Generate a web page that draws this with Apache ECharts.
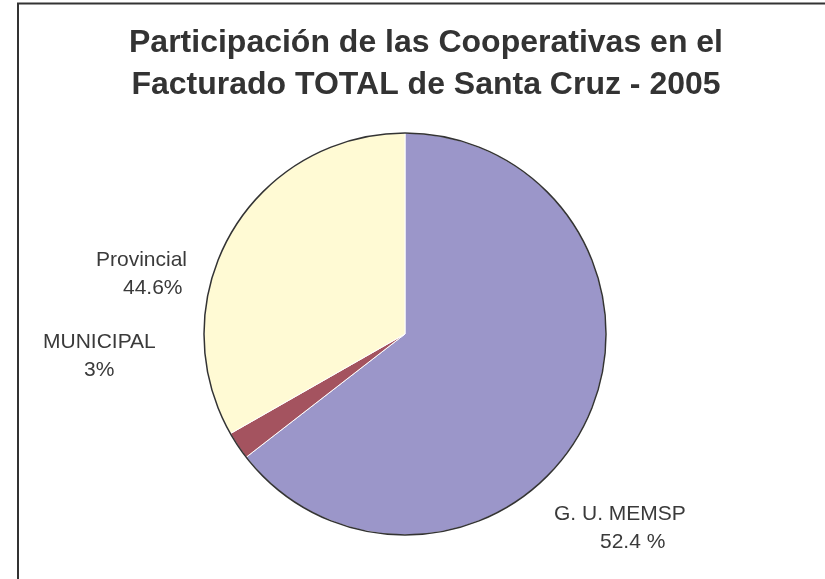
<!DOCTYPE html>
<html>
<head>
<meta charset="utf-8">
<script src="https://cdn.jsdelivr.net/npm/echarts@6/dist/echarts.min.js"></script>
<style>
  html, body { margin: 0; padding: 0; background: #fff; }
  #chart { width: 825px; height: 579px; }
</style>
</head>
<body>
<div id="chart"></div>
<script>
// ---- data ----
const titleLines = ['Participación de las Cooperativas en el', 'Facturado TOTAL de Santa Cruz - 2005'];
const categories = ['G. U. MEMSP', 'MUNICIPAL', 'Provincial'];
const sliceValues = [64.5, 2.25, 33.25];          // slice sizes as drawn
const percentLabels = ['52.4 %', '3%', '44.6%'];  // label texts as printed
const sliceColors = ['#9B96C9', '#A4535F', '#FFFAD4'];

// ---- layout (styling only) ----
const labelSpots = [
  { x: 554, y: 500 },
  { x: 43, y: 328 },
  { x: 96, y: 246 }
];
const secondLineIndent = [46, 41, 27];

const chart = echarts.init(document.getElementById('chart'));

const rich = {
  n: { fontSize: 21, fontFamily: 'Liberation Sans, Arial, sans-serif', color: '#3a3a3a', lineHeight: 28 }
};
secondLineIndent.forEach((pad, i) => {
  rich['p' + i] = { fontSize: 21, fontFamily: 'Liberation Sans, Arial, sans-serif', color: '#3a3a3a', lineHeight: 28, padding: [0, 0, 0, pad] };
});

chart.setOption({
  animation: false,
  backgroundColor: '#ffffff',
  graphic: [
    {
      type: 'rect',
      shape: { x: 18, y: 3.5, width: 900, height: 700 },
      style: { fill: 'none', stroke: '#333333', lineWidth: 2 },
      silent: true, z: 0
    },
    {
      type: 'text',
      x: 426, y: 22,
      style: {
        text: titleLines.join('\n'),
        font: 'bold 32px "Liberation Sans", Arial, sans-serif',
        fill: '#333333',
        textAlign: 'center',
        textVerticalAlign: 'top',
        lineHeight: 42
      },
      z: 10
    }
  ],
  series: [
    {
      type: 'pie',
      center: [405, 334],
      radius: 201,
      startAngle: 90,
      clockwise: true,
      avoidLabelOverlap: false,
      silent: true,
      itemStyle: { borderColor: '#ffffff', borderWidth: 1 },
      label: {
        show: true,
        position: 'outside',
        formatter: p => '{n|' + p.name + '}\n{p' + p.dataIndex + '|' + percentLabels[p.dataIndex] + '}',
        rich: rich
      },
      labelLine: { show: false },
      labelLayout: params => ({
        x: labelSpots[params.dataIndex].x,
        y: labelSpots[params.dataIndex].y,
        align: 'left',
        verticalAlign: 'top',
        hideOverlap: false,
        moveOverlap: null
      }),
      data: categories.map((c, i) => ({ name: c, value: sliceValues[i], itemStyle: { color: sliceColors[i] } }))
    },
    {
      type: 'pie',
      center: [405, 334],
      radius: 201,
      silent: true,
      label: { show: false },
      labelLine: { show: false },
      itemStyle: { color: 'rgba(0,0,0,0)', borderColor: '#333333', borderWidth: 1.5 },
      data: [{ name: 'outline', value: 1 }],
      z: 5
    }
  ]
});
</script>
</body>
</html>
